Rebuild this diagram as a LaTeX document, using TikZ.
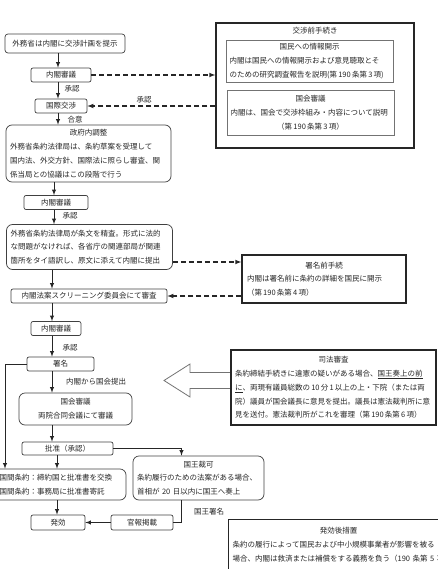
\documentclass[tikz,border=0pt]{standalone}
\usepackage{fontspec}
\setmainfont{Noto Sans CJK JP}
\setlength\parindent{0pt}
\newcommand\ttl[1]{\hfill#1\hfill\null}
\begin{document}
\begin{tikzpicture}[x=1pt,y=-1pt,
  font=\fontsize{7.5}{13.8}\selectfont,
  box/.style={draw=black!75,line width=0.7pt,rounded corners=2pt,minimum height=14pt,inner sep=0pt,text=black!85},
  rbox/.style={draw=black!75,line width=0.7pt,rounded corners=6pt,align=left,inner xsep=4pt,inner ysep=0pt,text=black!85},
  frame/.style={draw=black!85,line width=1.3pt,inner xsep=5pt,inner ysep=0pt,text=black!85},
  sub/.style={draw=black!55,line width=0.7pt,align=left,inner xsep=3.5pt,inner ysep=0pt,text=black!85},
  lbl/.style={inner sep=0pt,text=black!85},
  arr/.style={->,>=latex,line width=0.9pt,draw=black!85},
  darr/.style={arr,dash pattern=on 5pt off 3pt,line width=1.1pt}]
\useasboundingbox (0,0) rectangle (438,569);
\clip (0,0) rectangle (438,569);

% left column
\node[box,minimum width=120pt,minimum height=19pt,rounded corners=3pt] (plan) at (65,43.5) {外務省は内閣に交渉計画を提示};
\node[box,minimum width=60pt] (cab1) at (61,75) {内閣審議};
\node[box,minimum width=52pt] (talk) at (61,106) {国際交渉};
\node[rbox,text width=157pt,minimum height=57pt] (adjust) at (88.5,153.5) {\ttl{政府内調整}\\外務省条約法律局は、条約草案を受理して\\国内法、外交方針、国際法に照らし審査、関\\係当局との協議はこの段階で行う};
\node[box,minimum width=64pt] (cab2) at (56,202.5) {内閣審議};
\node[rbox,text width=158pt,minimum height=45pt] (draft) at (89.5,247) {外務省条約法律局が条文を精査。形式に法的\\な問題がなければ、各省庁の関連部局が関連\\箇所をタイ語訳し、原文に添えて内閣に提出};
\node[box,minimum width=156pt] (screen) at (89,296) {内閣法案スクリーニング委員会にて審査};
\node[box,minimum width=50pt] (cab3) at (56,328.5) {内閣審議};
\node[box,minimum width=67pt] (sign) at (60.5,364) {署名};
\node[rbox,align=center,text width=105pt,minimum height=32pt] (diet) at (75.5,409) {国会審議\\両院合同会議にて審議};
\node[box,minimum width=91pt,minimum height=13pt] (ratify) at (67.5,448.5) {批准（承認）};
\node[rbox,text width=130pt,minimum height=31pt] (deposit) at (57,484.5) {二国間条約：締約国と批准書を交換\\多国間条約：事務局に批准書寄託};
\node[box,minimum width=54pt,minimum height=15pt] (effect) at (58,522.5) {発効};
\node[box,minimum width=62pt,minimum height=15pt] (gazette) at (142,522.5) {官報掲載};
\node[rbox,text width=123pt,minimum height=44pt] (royal) at (198.5,478) {\ttl{国王裁可}\\条約履行のための法案がある場合、\\首相が~20~日以内に国王へ奏上};

\node[lbl] (ok1) at (72,89) {承認};
\node[lbl] (agree) at (75,120) {合意};
\node[lbl] (ok2) at (144,100) {承認};
\node[lbl] (ok3) at (70,216) {承認};
\node[lbl] (ok4) at (70,348) {承認};
\node[lbl] (submit) at (96,382) {内閣から国会提出};
\node[lbl] (kingsign) at (209,512) {国王署名};

% right column
\node[frame,minimum width=198pt,minimum height=125pt] (pre) at (315,85.5) {};
\node[lbl] (preT) at (315,31) {交渉前手続き};
\node[sub,text width=160pt,minimum height=42pt] (info) at (309.5,61) {\ttl{国民への情報開示}\\内閣は国民への情報開示および意見聴取とそ\\のための研究調査報告を説明(第\,190\,条第\,3\,項)};
\node[sub,text width=160pt,minimum height=45pt] (dietQ) at (310.5,112.5) {\ttl{国会審議}\\内閣は、国会で交渉枠組み・内容について説明\\\ttl{（第\,190\,条第\,3\,項）}};
\node[frame,align=left,text width=154pt,minimum height=48pt] (presign) at (324,279) {\ttl{署名前手続}\\内閣は署名前に条約の詳細を国民に開示\\（第\,190\,条第\,4\,項）};

% hollow arrow
\draw[black!55,line width=0.8pt,fill=white] (231,372.5) -- (190,372.5) -- (190,364) -- (164,380.5) -- (190,397) -- (190,388.5) -- (231,388.5);
\node[frame,align=left,text width=197pt,minimum height=75pt,inner xsep=4pt] (judicial) at (333.5,387.5) {\ttl{司法審査}\\条約締結手続きに違憲の疑いがある場合、\underline{国王奏上の前}\\\underline{に}、両現有議員総数の\,10\,分\,1\,以上の上・下院（または両\\院）議員が国会議長に意見を提出。議長は憲法裁判所に意\\見を送付。憲法裁判所がこれを審理（第\,190\,条第\,6\,項）};
\node[frame,minimum width=220pt,minimum height=80pt,anchor=north west] (after) at (228,519) {};
\node[lbl,align=left,text width=212pt,anchor=north] (afterT) at ([yshift=-8pt]after.north) {\ttl{発効後措置}\\条約の履行によって国民および中小規模事業者が影響を被る\\場合、内閣は救済または補償をする義務を負う（190~条第~5~項）};

% connectors
\coordinate (c1) at (58,0);
\coordinate (c2) at (54,0);
\coordinate (c3) at (52,0);
\coordinate (c4) at (57,0);
\coordinate (cL) at (5,0);
\coordinate (cR) at (181.5,0);
\draw[arr] (plan.south -| c1) -- (cab1.north -| c1);
\draw[arr] (cab1.south -| c1) -- (talk.north -| c1);
\draw[arr] (talk.south -| c1) -- (adjust.north -| c1);
\draw[arr] (adjust.south -| c2) -- (cab2.north -| c2);
\draw[arr] (cab2.south -| c2) -- (draft.north -| c2);
\draw[arr] (draft.south -| c3) -- (screen.north -| c3);
\draw[arr] (screen.south -| c3) -- (cab3.north -| c3);
\draw[arr] (cab3.south -| c3) -- (sign.north -| c3);
\draw[arr] (sign.south -| c3) -- (diet.north -| c3);
\draw[arr] (diet.south -| c3) -- (ratify.north -| c3);
\draw[arr] (ratify.south -| c4) -- (deposit.north -| c4);
\draw[arr] (deposit.south -| c4) -- (effect.north -| c4);
\draw[arr] (sign.west) -| (deposit.north -| cL);
\draw[arr] (ratify.east) -| (royal.north -| cR);
\draw[line width=0.9pt,draw=black!85] (royal.south -| cR) |- (gazette.east);
\draw[arr] (gazette.west) -- (effect.east);

\draw[darr] (cab1.east) -- (cab1.east -| pre.west);
\draw[darr] (talk.east -| pre.west) -- (talk.east);
\draw[darr] ([yshift=-15pt]draft.east) -- ([yshift=-15pt]draft.east -| presign.west);
\draw[darr] (screen.east -| presign.west) -- (screen.east);
\end{tikzpicture}
\end{document}
